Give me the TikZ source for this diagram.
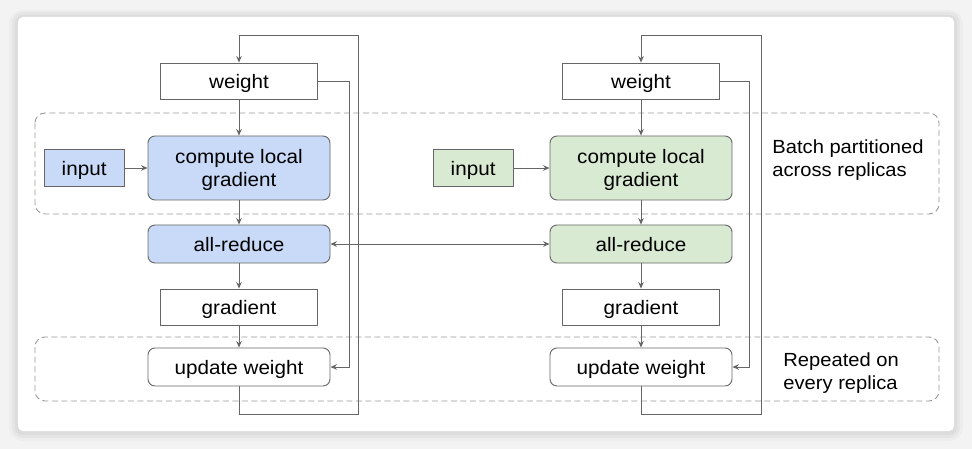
\documentclass[tikz,border=0pt]{standalone}
\usepackage{fontspec}
\setmainfont{Liberation Sans}[FakeStretch=1.06]
\usetikzlibrary{arrows.meta,positioning}

\definecolor{lineGray}{HTML}{666666}
\definecolor{dashGray}{HTML}{999999}
\definecolor{blueFill}{HTML}{C9DAF8}
\definecolor{greenFill}{HTML}{D9EAD3}
\definecolor{pageGray}{HTML}{F3F3F3}

\begin{document}
\begin{tikzpicture}[x=1pt, y=-1pt, >={Stealth[length=6.5pt,width=5.5pt]}, line width=0.9pt, draw=lineGray,
		font=\fontsize{19.5}{23.5}\selectfont]
				\tikzstyle{box} = [draw=lineGray, line width=0.9pt, fill=white, minimum width=157pt, minimum height=36pt, inner sep=0pt, text depth=0pt, align=center]
				\tikzstyle{rbox} = [box, rounded corners=7pt, minimum width=182pt, minimum height=38pt]
				\tikzstyle{inbox} = [box, minimum width=80pt, minimum height=37pt]
				\tikzstyle{group} = [draw=dashGray, line width=0.9pt, dash pattern=on 6pt off 3.5pt, rounded corners=10pt]
				\tikzstyle{flow} = [->, draw=lineGray, line width=0.9pt]
				\tikzstyle{side} = [anchor=west, align=left, inner sep=0pt, font=\fontsize{19}{23.5}\selectfont]

				% page and card
				\fill[pageGray] (0,0) rectangle (972,449);
				\fill[black, opacity=0.025, rounded corners=14pt] (9,10) rectangle (963,441);
				\fill[black, opacity=0.03, rounded corners=11pt] (12,12) rectangle (960,438);
				\fill[black, opacity=0.04, rounded corners=8pt] (15,15) rectangle (957,435);
				\fill[white, rounded corners=5pt] (18,17) rectangle (954,431);

				% groups
				\draw[group] (35,113) rectangle (939,214);
				\draw[group] (35,337) rectangle (939,401);

				% first replica
				\node[box] (W1) at (239,81) {weight};
				\node[rbox, fill=blueFill, minimum height=64pt] (C1) [below of=W1, node distance=87pt] {compute local\\gradient};
				\node[inbox, fill=blueFill] (I1) [left=23pt of C1] {input};
				\node[rbox, fill=blueFill] (A1) [below of=C1, node distance=76pt] {all-reduce};
				\node[box] (G1) [below of=A1, node distance=63pt] {gradient};
				\node[rbox] (U1) [below of=G1, node distance=60pt] {update weight};

				% second replica
				\node[box] (W2) at (641,81) {weight};
				\node[rbox, fill=greenFill, minimum height=64pt] (C2) [below of=W2, node distance=87pt] {compute local\\gradient};
				\node[inbox, fill=greenFill] (I2) [left=36pt of C2] {input};
				\node[rbox, fill=greenFill] (A2) [below of=C2, node distance=76pt] {all-reduce};
				\node[box] (G2) [below of=A2, node distance=63pt] {gradient};
				\node[rbox] (U2) [below of=G2, node distance=60pt] {update weight};

				% side notes
				\node[side] (N1) at (772,160) {Batch partitioned\\across replicas};
				\node[side] (N2) at (783,373) {Repeated on\\every replica};

				\path[flow] (W1) edge (C1)
						  (I1) edge (C1)
						  (C1) edge (A1)
						  (A1) edge (G1)
						  (G1) edge (U1)
					  (W2) edge (C2)
						  (I2) edge (C2)
						  (C2) edge (A2)
						  (A2) edge (G2)
						  (G2) edge (U2);
				\draw[flow, <->] (A1) -- (A2);

				% weight loops
				\draw[flow] (W1.east) -- ++(31.5,0) |- (U1.east);
				\draw[flow] (U1.south) |- (358,414) -- (358,35) -| (W1.north);
				\draw[flow] (W2.east) -- ++(29.5,0) |- (U2.east);
				\draw[flow] (U2.south) |- (761,414) -- (761,35) -| (W2.north);
			\end{tikzpicture}
\end{document}
